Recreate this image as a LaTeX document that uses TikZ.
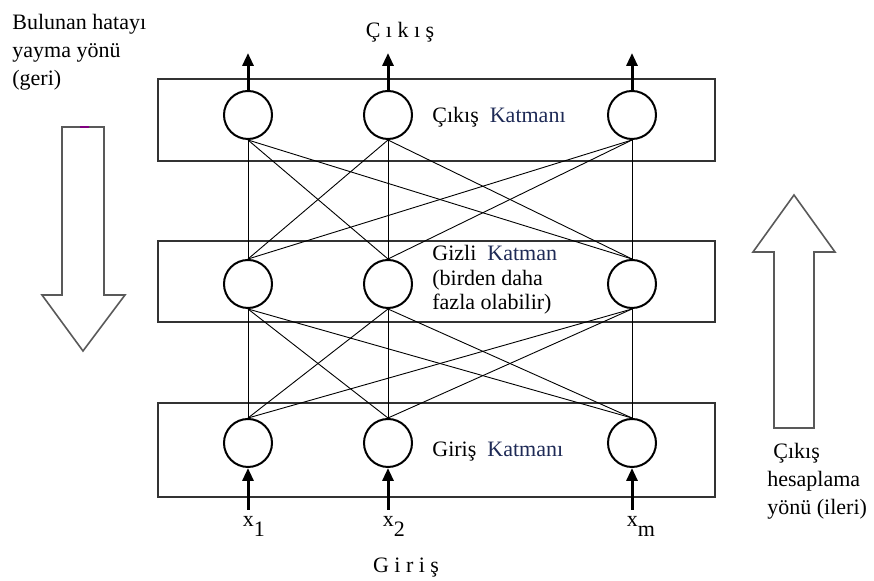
\documentclass[tikz,border=0pt]{standalone}
\usepackage{fontspec}
\setmainfont{Liberation Serif}
\usepackage{tikz}
\usetikzlibrary{arrows.meta}
\definecolor{katblue}{RGB}{30,42,86}

\begin{document}
\begin{tikzpicture}[x=0.5pt,y=-0.5pt,font=\fontsize{11}{14}\selectfont,
  neuron/.style={circle, draw=black, line width=1pt, minimum size=24pt, inner sep=0pt},
  layer/.style={draw=black!80, line width=0.7pt},
  link/.style={line width=0.45pt},
  flow/.style={-{Triangle[length=6.5pt,width=5.5pt]}, line width=1.5pt},
  bigarrow/.style={draw=black!65, line width=0.8pt, line join=miter},
  lab/.style={inner sep=0pt, anchor=west, align=left}]
\useasboundingbox (0,0) rectangle (874,581);
% ---- layer boxes ----
\draw[layer] (158,79) rectangle (715,161);
\draw[layer] (158,241) rectangle (715,322);
\draw[layer] (158,403) rectangle (715,497);
% ---- neurons ----
\foreach \c [count=\k] in {248,388,632} {
  \node[neuron] (o\k) at (\c,115) {};
  \node[neuron] (h\k) at (\c,284) {};
  \node[neuron] (i\k) at (\c,443) {};
  \coordinate (out\k) at (\c,53);
  \coordinate (in\k) at (\c,510);
}
% ---- links ----
\foreach \a in {1,2,3} {
  \foreach \b in {1,2,3} {
    \draw[link] (o\a.south) -- (h\b.north);
    \draw[link] (h\a.south) -- (i\b.north);
  }
}
% ---- outputs ----
\foreach \k in {1,2,3} \draw[flow] (o\k.north) -- (out\k);
\node (cikis) at (400,32) {Ç ı k ı ş};
% ---- inputs ----
\foreach \k in {1,2,3} \draw[flow] (in\k) -- (i\k.south);
\node[inner sep=0pt, anchor=base west] (x1) at (242.5,527) {x\raisebox{-5pt}{1}};
\node[inner sep=0pt, anchor=base west] (x2) at (382.5,527) {x\raisebox{-5pt}{2}};
\node[inner sep=0pt, anchor=base west] (xm) at (626.5,527) {x\raisebox{-5pt}{m}};
\node (giris) at (406,568) {G i r i ş};
% ---- layer names ----
\node[lab] (lout) at (432,117) {Çıkış~~\textcolor{katblue}{Katmanı}};
\node[lab, font=\fontsize{11}{12.3}\selectfont] (lhid) at (432,280)
  {Gizli~~\textcolor{katblue}{Katman}\\(birden daha\\fazla olabilir)};
\node[lab] (lin) at (432,452) {Giriş~~\textcolor{katblue}{Katmanı}};
% ---- direction arrows ----
\draw[bigarrow] (62,127) -- (104,127) -- (104,295) -- (125,295) -- (83,351)
  -- (42,295) -- (62,295) -- cycle;
\draw[violet, line width=1pt] (80,127) -- (89,127);
\node[lab] (lback) at (12,52) {Bulunan hatayı\\yayma yönü\\(geri)};
\draw[bigarrow] (774,428) -- (814,428) -- (814,252) -- (835,252) -- (794,195)
  -- (753,252) -- (774,252) -- cycle;
\node[lab] (lfwd) at (767,481) {\hspace{3pt}Çıkış\\hesaplama\\yönü (ileri)};
\end{tikzpicture}
\end{document}
